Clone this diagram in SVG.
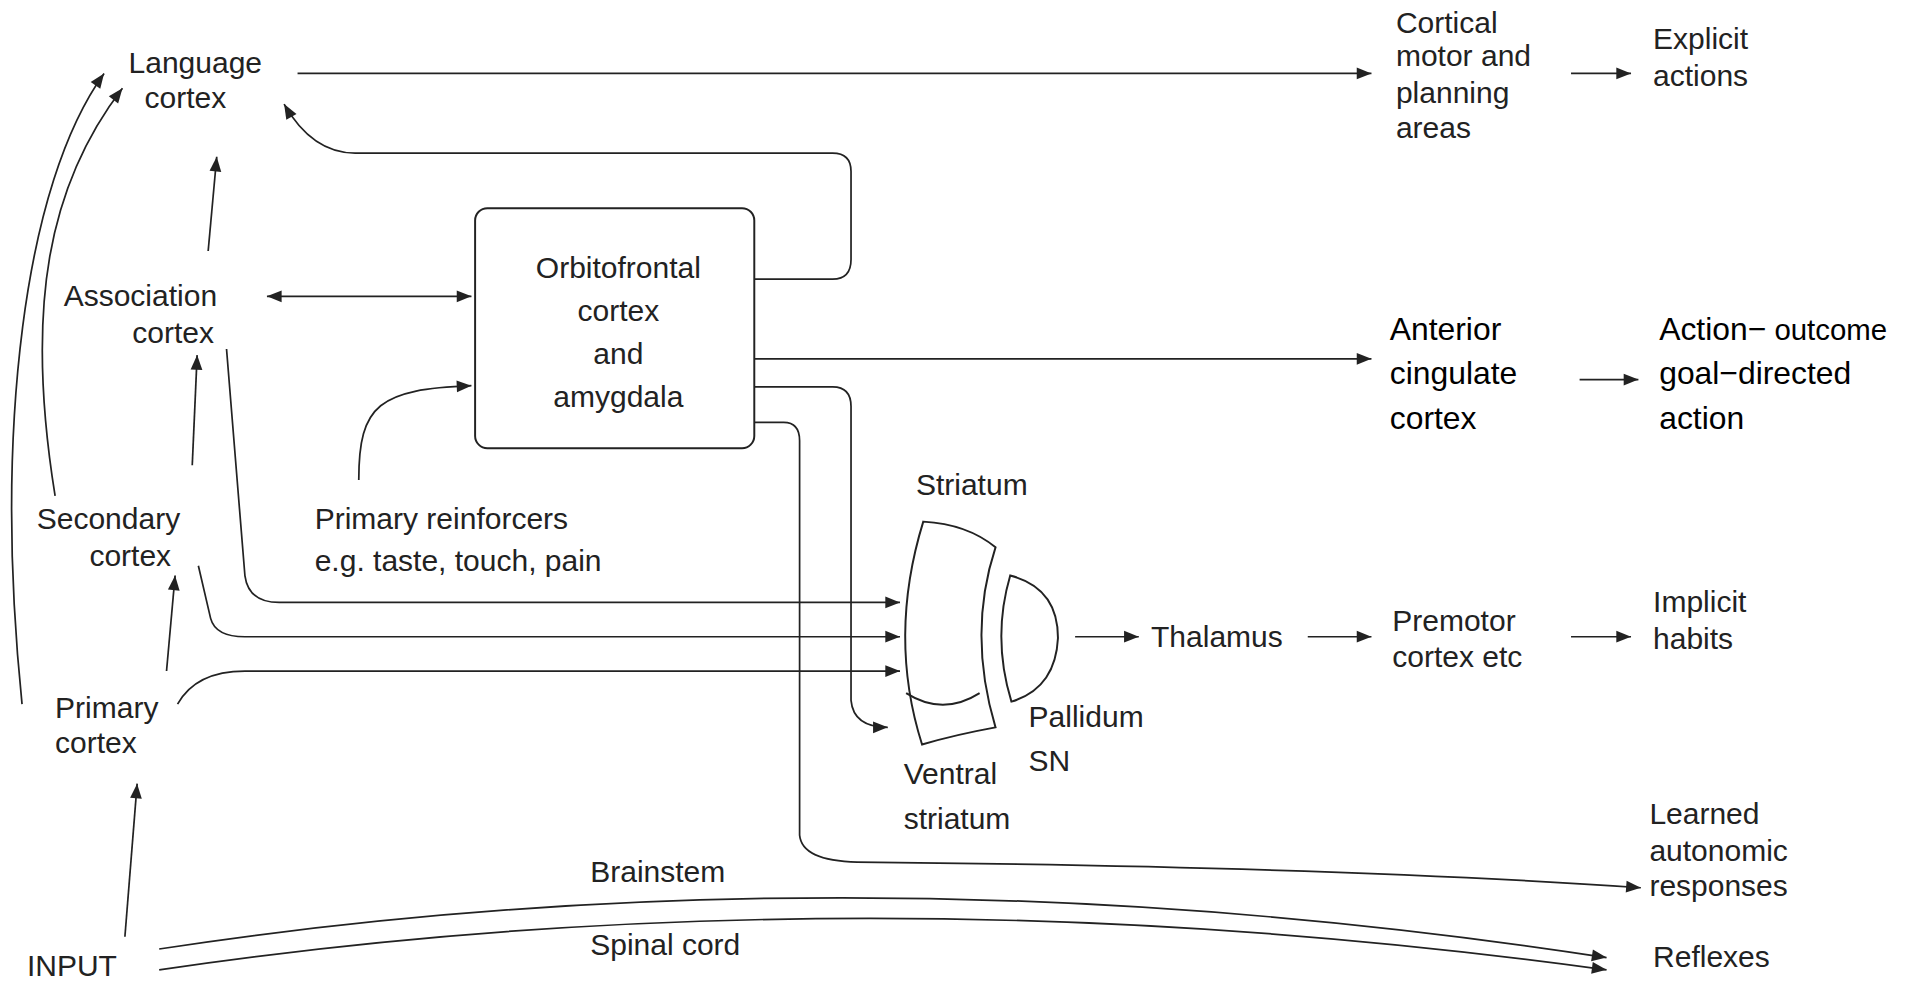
<svg xmlns="http://www.w3.org/2000/svg" width="1920" height="982" viewBox="0 0 1920 982">
<defs>
<marker id="a" viewBox="0 0 10 10" refX="10" refY="5" markerWidth="20" markerHeight="12" markerUnits="userSpaceOnUse" orient="auto-start-reverse"><path d="M0,1 L10,5 L0,9 z" fill="#222"/></marker>
<style>
text{font-family:"Liberation Sans",Arial,sans-serif;font-size:24.5px;fill:#222}
.b{font-size:26px;fill:#000}
.c path,.c line{fill:none;stroke:#222;stroke-width:1.4}
.s{fill:none;stroke:#222;stroke-width:1.6}
</style>
</defs>
<rect width="1920" height="982" fill="#fff"/>
<g transform="scale(1.2245)">
<g id="language"><text x="105" y="60">Language</text><text x="118" y="88">cortex</text></g>
<g id="association"><text x="52" y="250">Association</text><text x="108" y="280">cortex</text></g>
<g id="secondary"><text x="30" y="432">Secondary</text><text x="73" y="462">cortex</text></g>
<g id="primary"><text x="45" y="586">Primary</text><text x="45" y="615">cortex</text></g>
<g id="input"><text x="22" y="797">INPUT</text></g>
<g id="cortical"><text x="1140" y="27">Cortical</text><text x="1140" y="54">motor and</text><text x="1140" y="84">planning</text><text x="1140" y="113">areas</text></g>
<g id="explicit"><text x="1350" y="40">Explicit</text><text x="1350" y="70">actions</text></g>
<g id="ofc"><rect x="388" y="170" width="228" height="196" rx="10" class="s"/>
<text x="505" y="227" text-anchor="middle">Orbitofrontal</text><text x="505" y="262" text-anchor="middle">cortex</text><text x="505" y="297" text-anchor="middle">and</text><text x="505" y="332" text-anchor="middle">amygdala</text></g>
<g id="acc"><text class="b" x="1135" y="278">Anterior</text><text class="b" x="1135" y="314">cingulate</text><text class="b" x="1135" y="350">cortex</text></g>
<g id="goal"><text class="b" x="1355" y="278">Action−<tspan font-size="24"> outcome</tspan></text><text class="b" x="1355" y="314">goal−directed</text><text class="b" x="1355" y="350">action</text></g>
<g id="reinforcers"><text x="257" y="432">Primary reinforcers</text><text x="257" y="466">e.g. taste, touch, pain</text></g>
<g id="striatum"><text x="748" y="404">Striatum</text>
<path class="s" d="M754,426 Q790,428 813,447 Q790,517 813,594 Q780,600 753,608 Q725,520 754,426 Z"/>
<path class="s" d="M740,566 Q770,585 800,566"/></g>
<g id="pallidum"><path class="s" d="M825,470 Q864,480 864,521 Q862,562 826,573 Q810,521 825,470 Z"/><text x="840" y="594">Pallidum</text><text x="840" y="630">SN</text></g>
<g id="ventral"><text x="738" y="640">Ventral</text><text x="738" y="677">striatum</text></g>
<g id="thalamus"><text x="940" y="528">Thalamus</text></g>
<g id="premotor"><text x="1137" y="515">Premotor</text><text x="1137" y="545">cortex etc</text></g>
<g id="implicit"><text x="1350" y="500">Implicit</text><text x="1350" y="530">habits</text></g>
<g id="learned"><text x="1347" y="673">Learned</text><text x="1347" y="703">autonomic</text><text x="1347" y="732">responses</text></g>
<g id="reflexes"><text x="1350" y="790">Reflexes</text></g>
<g id="brainstem"><text x="482" y="720">Brainstem</text></g>
<g id="spinal"><text x="482" y="780">Spinal cord</text></g>
<g id="connectors" class="c">
<line x1="243" y1="60" x2="1120" y2="60" marker-end="url(#a)"/>
<line x1="1283" y1="60" x2="1332" y2="60" marker-end="url(#a)"/>
<path d="M616,228 H680 Q695,228 695,212 V140 Q695,125 680,125 H290 Q255,125 232,85" marker-end="url(#a)"/>
<line x1="218" y1="242" x2="385" y2="242" marker-start="url(#a)" marker-end="url(#a)"/>
<path d="M293,392 C293,330 310,318 385,315" marker-end="url(#a)"/>
<line x1="616" y1="293" x2="1120" y2="293" marker-end="url(#a)"/>
<line x1="1290" y1="310" x2="1338" y2="310" marker-end="url(#a)"/>
<path d="M616,316 H680 Q695,316 695,332 V572 Q697,594 725,594" marker-end="url(#a)"/>
<path d="M616,345 H640 Q653,345 653,360 V682 Q655,703 700,704 Q1100,708 1340,725" marker-end="url(#a)"/>
<path d="M185,285 L200,470 Q203,492 228,492 H735" marker-end="url(#a)"/>
<path d="M162,462 L172,505 Q176,520 200,520 H735" marker-end="url(#a)"/>
<path d="M145,575 Q160,548 200,548 H735" marker-end="url(#a)"/>
<line x1="878" y1="520" x2="930" y2="520" marker-end="url(#a)"/>
<line x1="1068" y1="520" x2="1120" y2="520" marker-end="url(#a)"/>
<line x1="1283" y1="520" x2="1332" y2="520" marker-end="url(#a)"/>
<line x1="136" y1="548" x2="143" y2="470" marker-end="url(#a)"/>
<line x1="157" y1="380" x2="161" y2="290" marker-end="url(#a)"/>
<line x1="170" y1="205" x2="177" y2="128" marker-end="url(#a)"/>
<line x1="102" y1="765" x2="112" y2="640" marker-end="url(#a)"/>
<path d="M45,405 C20,250 40,150 100,72" marker-end="url(#a)"/>
<path d="M18,575 C-5,350 20,150 85,60" marker-end="url(#a)"/>
<path d="M130,775 Q700,688 1312,782" marker-end="url(#a)"/>
<path d="M130,792 Q700,708 1312,792" marker-end="url(#a)"/>
</g>
</g>
</svg>
